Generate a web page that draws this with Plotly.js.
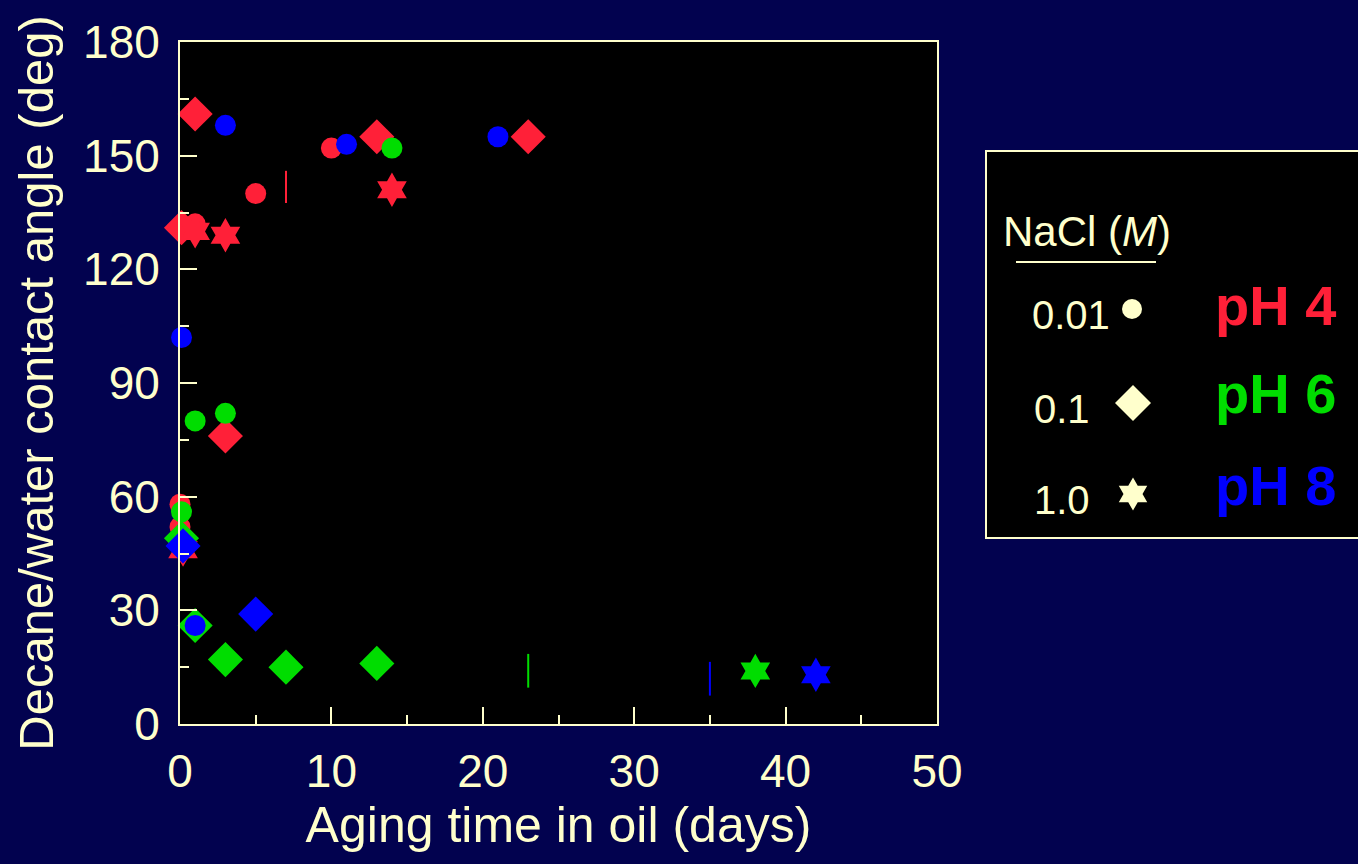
<!DOCTYPE html>
<html>
<head>
<meta charset="utf-8">
<script src="https://cdn.plot.ly/plotly-3.0.1.min.js"></script>
<style>
  html, body { margin: 0; padding: 0; background: #02024f; }
  #chart { width: 1358px; height: 864px; }
</style>
</head>
<body>
<div id="chart"></div>
<script>
// ---- data ----
// pH 4 (red)
const ph4CircleX  = [0, 0, 1, 5, 10];
const ph4CircleY  = [58, 52, 132, 140, 152];
const ph4DiamondX = [0.1, 1, 3, 13, 23];
const ph4DiamondY = [131, 161, 76, 155, 155];
const ph4StarX    = [0.2, 1, 3, 14];
const ph4StarY    = [46, 130, 129, 141];
// pH 6 (green)
const ph6CircleX  = [0.1, 1, 3, 14];
const ph6CircleY  = [56, 80, 82, 152];
const ph6DiamondX = [0.1, 1, 3, 7, 13];
const ph6DiamondY = [49, 26, 17, 15, 16];
const ph6StarX    = [38];
const ph6StarY    = [14];
// pH 8 (blue)
const ph8CircleX  = [0.1, 1, 3, 11, 21];
const ph8CircleY  = [102, 26, 158, 153, 155];
const ph8DiamondX = [0.2, 5];
const ph8DiamondY = [47, 29];
const ph8StarX    = [42];
const ph8StarY    = [13];
// isolated vertical bars
const barX    = [7, 23, 35];
const barLow  = [137.5, 9.6, 7.5];
const barHigh = [146, 18.5, 16.4];
const barSeries = ['pH 4', 'pH 6', 'pH 8'];
// legend labels
const saltLabels = ['0.01', '0.1', '1.0'];
const phLabels = ['pH 4', 'pH 6', 'pH 8'];
const xTickVals = [0, 10, 20, 30, 40, 50];
const yTickVals = [0, 30, 60, 90, 120, 150, 180];

// ---- styles ----
const CREAM = '#ffffcc';
const BG = '#02024f';
const colors = {'pH 4': '#ff2038', 'pH 6': '#00dd00', 'pH 8': '#0000ff'};
const symbols = {circle: {symbol: 'circle', size: 21},
                 diamond: {symbol: 'diamond', size: 27},
                 star: {symbol: 'hexagram', size: 26}};
const FONT = 'Liberation Sans, Arial, Helvetica, sans-serif';

function mk(x, y, ph, kind) {
  return {
    type: 'scatter', mode: 'markers', x: x, y: y, cliponaxis: false,
    showlegend: false, hoverinfo: 'x+y',
    marker: {color: colors[ph], symbol: symbols[kind].symbol, size: symbols[kind].size,
             line: {width: 0}}
  };
}

const traces = [
  mk(ph4CircleX, ph4CircleY, 'pH 4', 'circle'),
  mk(ph4DiamondX, ph4DiamondY, 'pH 4', 'diamond'),
  mk(ph4StarX, ph4StarY, 'pH 4', 'star'),
  mk(ph6CircleX, ph6CircleY, 'pH 6', 'circle'),
  mk(ph6DiamondX, ph6DiamondY, 'pH 6', 'diamond'),
  mk(ph6StarX, ph6StarY, 'pH 6', 'star'),
  mk(ph8CircleX, ph8CircleY, 'pH 8', 'circle'),
  mk(ph8DiamondX, ph8DiamondY, 'pH 8', 'diamond'),
  mk(ph8StarX, ph8StarY, 'pH 8', 'star'),
];
barX.forEach((bx, i) => {
  traces.push({type: 'scatter', mode: 'lines', x: [bx, bx], y: [barLow[i], barHigh[i]],
    showlegend: false, hoverinfo: 'skip', line: {color: colors[barSeries[i]], width: 2}});
});

// ---- pixel helpers for the hand-made key (plot area 180..937 x 42..724) ----
const W = 1358, H = 864, L = 180, R = 937, T = 42, B = 724;
const px = v => (v - L) / (R - L);
const py = v => (B - v) / (B - T);

const annotations = [];
annotations.push({xref: 'paper', yref: 'paper', x: px(1087), y: py(232), text: 'NaCl (<i>M</i>)',
  showarrow: false, font: {family: FONT, size: 42, color: CREAM}, xanchor: 'center', yanchor: 'middle'});
const keyY = [309, 403, 494];
const saltRight = [1112, 1092, 1092];
saltLabels.forEach((s, i) => {
  annotations.push({xref: 'paper', yref: 'paper', x: px(saltRight[i]), y: py(keyY[i] + 6), text: s,
    showarrow: false, font: {family: FONT, size: 40, color: CREAM}, xanchor: 'right', yanchor: 'middle'});
});
const phY = [305, 393, 485];
phLabels.forEach((s, i) => {
  annotations.push({xref: 'paper', yref: 'paper', x: px(1275), y: py(phY[i]), text: '<b>' + s + '</b>',
    showarrow: false, font: {family: FONT, size: 56, color: colors[s]}, xanchor: 'center', yanchor: 'middle'});
});

// key box, rule and the three cream symbols (pixel-sized shapes)
function hexPath(r) {
  const y = r * 0.66, a = r * 0.38, b = r * 0.76;
  const pts = [[-b, 0], [-b - a, y], [-a, y], [0, 2 * y], [a, y], [b + a, y], [b, 0],
               [b + a, -y], [a, -y], [0, -2 * y], [-a, -y], [-b - a, -y]];
  return 'M' + pts.map(p => p[0].toFixed(2) + ',' + p[1].toFixed(2)).join('L') + 'Z';
}
const shapes = [
  {type: 'rect', xref: 'paper', yref: 'paper', x0: px(986), x1: px(1362), y0: py(151), y1: py(538),
   fillcolor: '#000000', line: {color: CREAM, width: 2}, layer: 'below'},
  {type: 'line', xref: 'paper', yref: 'paper', x0: px(1016), x1: px(1156), y0: py(262), y1: py(262),
   line: {color: CREAM, width: 2}},
  {type: 'circle', xref: 'paper', yref: 'paper', xsizemode: 'pixel', ysizemode: 'pixel',
   xanchor: px(1132), yanchor: py(309), x0: -10, x1: 10, y0: -10, y1: 10,
   fillcolor: CREAM, line: {width: 0}},
  {type: 'path', xref: 'paper', yref: 'paper', xsizemode: 'pixel', ysizemode: 'pixel',
   xanchor: px(1133), yanchor: py(403), path: 'M-18,0L0,18L18,0L0,-18Z',
   fillcolor: CREAM, line: {width: 0}},
  {type: 'path', xref: 'paper', yref: 'paper', xsizemode: 'pixel', ysizemode: 'pixel',
   xanchor: px(1133), yanchor: py(494), path: hexPath(12.5),
   fillcolor: CREAM, line: {width: 0}}
];

const axisCommon = {
  showgrid: false, zeroline: false, showline: true, mirror: true,
  linecolor: CREAM, linewidth: 2,
  ticks: 'inside', ticklen: 17, tickwidth: 2, tickcolor: CREAM,
  tickfont: {family: FONT, size: 46, color: CREAM},
};

const layout = {
  width: W, height: H,
  paper_bgcolor: BG, plot_bgcolor: '#000000',
  margin: {l: L, r: W - R, t: T, b: H - B},
  showlegend: false,
  xaxis: Object.assign({}, axisCommon, {
    range: [0, 50], tickmode: 'array', tickvals: xTickVals,
    minor: {dtick: 5, ticklen: 9, tickwidth: 2, tickcolor: CREAM, ticks: 'inside', showgrid: false},
    ticklabelstandoff: 6,
    title: {text: 'Aging time in oil (days)', font: {family: FONT, size: 50, color: CREAM}, standoff: 10}
  }),
  yaxis: Object.assign({}, axisCommon, {
    range: [0, 180], tickmode: 'array', tickvals: yTickVals,
    minor: {dtick: 15, ticklen: 9, tickwidth: 2, tickcolor: CREAM, ticks: 'inside', showgrid: false},
    ticklabelstandoff: 9,
    title: {text: 'Decane/water contact angle (deg)', font: {family: FONT, size: 49, color: CREAM}, standoff: 14}
  }),
  annotations: annotations,
  shapes: shapes
};

Plotly.newPlot('chart', traces, layout, {displayModeBar: false, staticPlot: true});
</script>
</body>
</html>
